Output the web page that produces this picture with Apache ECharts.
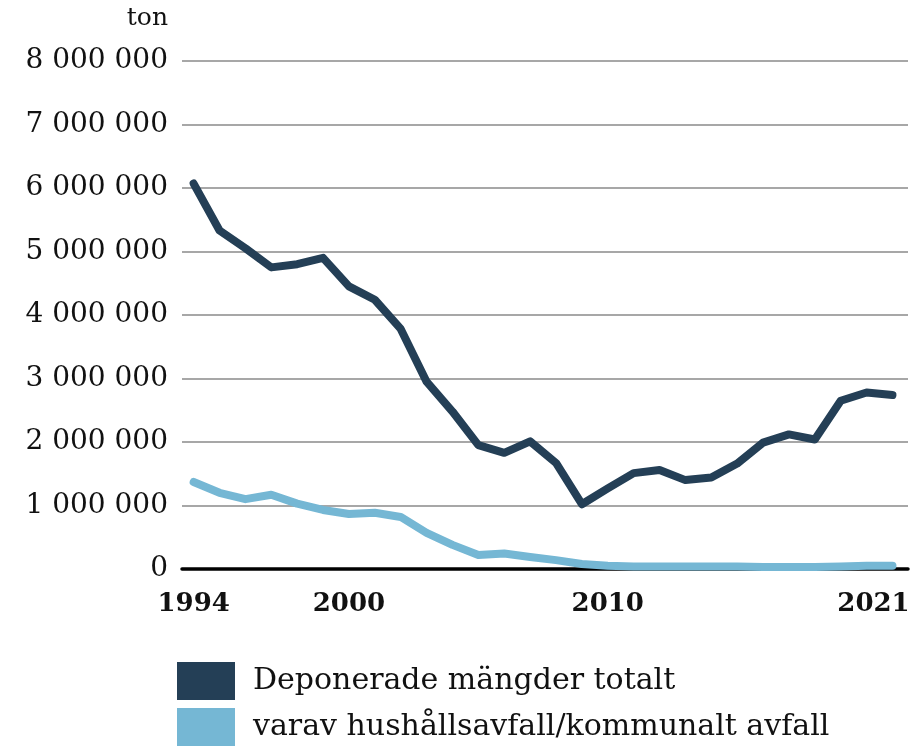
<!DOCTYPE html>
<html>
<head>
<meta charset="utf-8">
<script src="https://cdn.jsdelivr.net/npm/echarts@6/dist/echarts.min.js"></script>
<style>
  html, body { margin: 0; padding: 0; background: #fff; }
  #chart { width: 916px; height: 753px; }
</style>
</head>
<body>
<div id="chart"></div>
<script>
// år
var years = [1994, 1995, 1996, 1997, 1998, 1999, 2000, 2001, 2002, 2003, 2004, 2005, 2006, 2007,
             2008, 2009, 2010, 2011, 2012, 2013, 2014, 2015, 2016, 2017, 2018, 2019, 2020, 2021];
// deponerade mängder totalt, ton
var totalt = [6070000, 5330000, 5050000, 4750000, 4800000, 4900000, 4450000, 4240000, 3780000, 2950000,
              2480000, 1950000, 1830000, 2010000, 1670000, 1020000, 1270000, 1510000, 1560000, 1400000,
              1440000, 1660000, 1990000, 2120000, 2040000, 2650000, 2780000, 2740000];
// varav hushållsavfall/kommunalt avfall, ton
var hushall = [1370000, 1200000, 1100000, 1170000, 1030000, 930000, 865000, 885000, 820000, 570000,
               380000, 220000, 245000, 190000, 140000, 80000, 50000, 40000, 40000, 40000,
               40000, 40000, 30000, 30000, 30000, 40000, 50000, 50000];
var xLabels = [1994, 2000, 2010, 2021];
var seriesNames = ['Deponerade mängder totalt', 'varav hushållsavfall/kommunalt avfall'];

function pairs(vals) {
    return years.map(function (y, i) { return [y, vals[i]]; });
}

function legendFor(name, top) {
    return {
        orient: 'vertical',
        left: 177,
        top: top,
        padding: 0,
        itemWidth: 58,
        itemHeight: 38,
        icon: 'rect',
        selectedMode: false,
        data: [name],
        textStyle: { fontFamily: 'DejaVu Serif', fontSize: 30, color: '#111', padding: [0, 0, 0, 13] }
    };
}

var chart = echarts.init(document.getElementById('chart'));
var option = {
    animation: false,
    textStyle: { fontFamily: 'DejaVu Serif', color: '#111' },
    grid: { left: 182, right: 8, top: 61, bottom: 184, containLabel: false, outerBoundsMode: 'none' },
    legend: [legendFor(seriesNames[0], 662), legendFor(seriesNames[1], 708)],
    xAxis: {
        type: 'value',
        min: 1993.55,
        max: 2021.6,
        splitLine: { show: false },
        axisTick: { show: false },
        axisLine: { lineStyle: { color: '#000', width: 3.5 } },
        axisLabel: {
            customValues: xLabels,
            fontWeight: 'bold',
            fontSize: 26,
            color: '#111',
            margin: 22,
            formatter: function (v) {
                return v === 2021 ? '{last|' + v + '}' : String(v);
            },
            rich: {
                last: { fontWeight: 'bold', fontSize: 26, color: '#111', fontFamily: 'DejaVu Serif', padding: [0, 38, 0, 0] }
            }
        }
    },
    yAxis: {
        type: 'value',
        min: 0,
        max: 8000000,
        interval: 1000000,
        name: 'ton',
        nameLocation: 'end',
        nameGap: 30,
        nameTextStyle: { fontSize: 25, color: '#111', align: 'right', padding: [0, 14, 0, 0] },
        axisLine: { show: false },
        axisTick: { show: false },
        splitLine: { lineStyle: { color: '#8a8a8a', width: 1.5 } },
        axisLabel: {
            fontSize: 28,
            color: '#111',
            margin: 14,
            formatter: function (v) {
                return String(v).replace(/\B(?=(\d{3})+(?!\d))/g, ' ');
            }
        }
    },
    series: [
        {
            name: seriesNames[0],
            type: 'line',
            data: pairs(totalt),
            showSymbol: false,
            color: '#243f56',
            lineStyle: { width: 8, color: '#243f56', cap: 'round', join: 'round' }
        },
        {
            name: seriesNames[1],
            type: 'line',
            data: pairs(hushall),
            showSymbol: false,
            color: '#75b7d4',
            lineStyle: { width: 8, color: '#75b7d4', cap: 'round', join: 'round' }
        }
    ]
};
chart.setOption(option);
</script>
</body>
</html>
